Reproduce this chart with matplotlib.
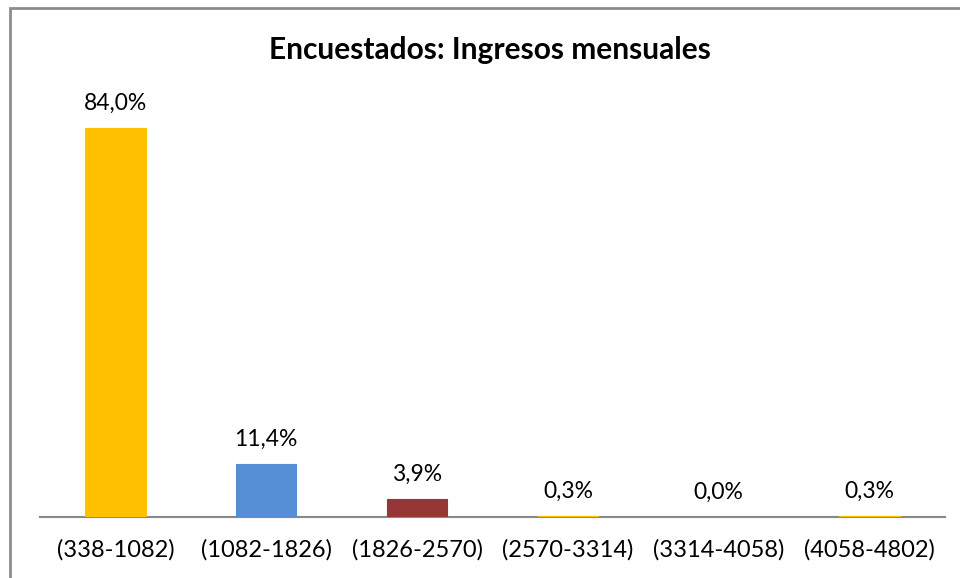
import matplotlib.pyplot as plt
from matplotlib.patches import Rectangle

categories = ['(338-1082)', '(1082-1826)', '(1826-2570)', '(2570-3314)', '(3314-4058)', '(4058-4802)']
values = [84.0, 11.4, 3.9, 0.3, 0.0, 0.3]
labels = ['84,0%', '11,4%', '3,9%', '0,3%', '0,0%', '0,3%']
colors = ['#FFC000', '#558ED5', '#953735', '#FFC000', '#558ED5', '#FFC000']

plt.rcParams['font.family'] = ['Lato', 'DejaVu Sans']

W, H = 960, 578
fig = plt.figure(figsize=(W / 100, H / 100), dpi=100)

# outer chart border (runs off the right and bottom edges)
fig.patches.append(Rectangle((10 / W, -0.05), 1.0, (H - 8) / H + 0.05,
                             transform=fig.transFigure, fill=False,
                             edgecolor='#8c8c8c', linewidth=2))

ax = fig.add_axes([40 / W, (H - 517) / H, 905 / W, 417 / H])
x = range(len(categories))
# thin edge so the 0,3% bars still show, none on the empty one
edge_w = [0.8 if v > 0 else 0 for v in values]
ax.bar(x, values, width=0.4, color=colors, edgecolor=colors, linewidth=edge_w)
ax.set_ylim(0, 90)
ax.set_xlim(-0.5, len(categories) - 0.5)

for xi, v, lab in zip(x, values, labels):
    ax.annotate(lab, (xi, v), xytext=(0, 10), textcoords='offset points',
                ha='center', va='bottom', fontsize=16.5)

for s in ['top', 'right', 'left']:
    ax.spines[s].set_visible(False)
ax.spines['bottom'].set_color('#888888')
ax.spines['bottom'].set_linewidth(1.5)
ax.spines['bottom'].set_zorder(0.5)
ax.set_yticks([])
ax.set_xticks(list(x))
ax.set_xticklabels(categories, fontsize=17)
ax.tick_params(axis='x', length=0, pad=16)

fig.text(490 / W, 1 - 50 / H, 'Encuestados: Ingresos mensuales', ha='center', va='center',
         fontsize=21.5, fontweight='bold')

fig.savefig('out.png', dpi=100)
